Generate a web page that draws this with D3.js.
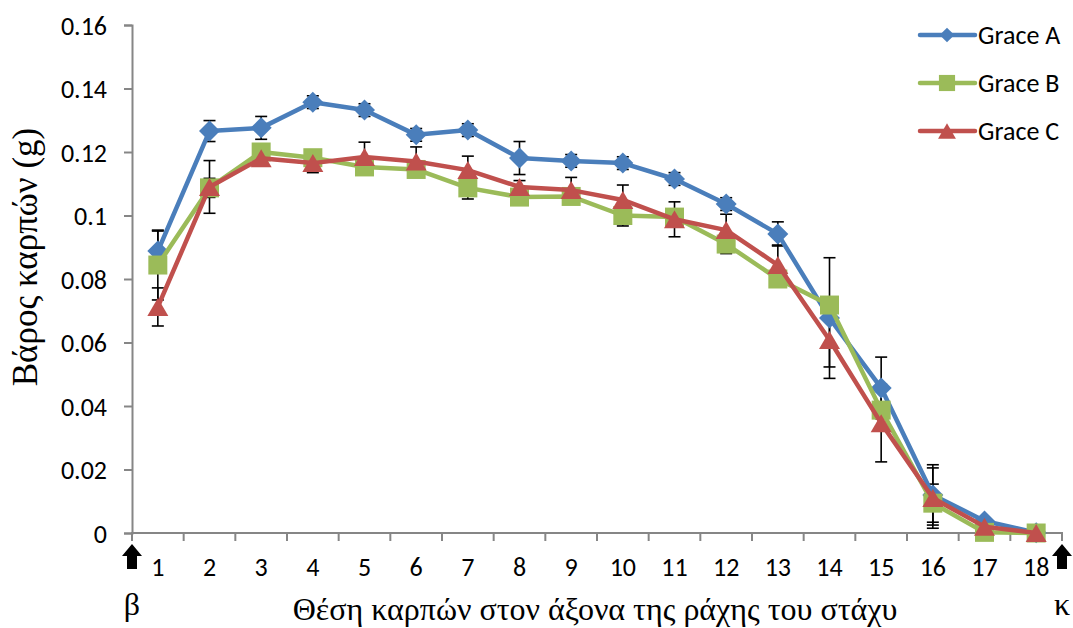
<!DOCTYPE html>
<html>
<head>
<meta charset="utf-8">
<script src="https://cdn.jsdelivr.net/npm/d3@7"></script>
<style>
  body { margin: 0; background: #fff; }
  svg { display: block; }
  .tick-label { font-family: Carlito, Calibri, Lato, sans-serif; font-size: 26px; fill: #000; }
  .axis-title { font-family: "Liberation Serif", "Times New Roman", serif; font-size: 32px; fill: #000; }
</style>
</head>
<body>
<svg id="chart" width="1073" height="628"></svg>
<script>
// positions along the ear's rachis
const categories = ["1","2","3","4","5","6","7","8","9","10","11","12","13","14","15","16","17","18"];
const yTicks = [0, 0.02, 0.04, 0.06, 0.08, 0.1, 0.12, 0.14, 0.16];
const seriesNames = ["Grace A", "Grace B", "Grace C"];

const graceA = [0.0888, 0.1266, 0.1276, 0.1357, 0.1332, 0.1254, 0.1269, 0.1181, 0.1172, 0.1165, 0.1115, 0.1036, 0.0942, 0.0677, 0.0457, 0.0120, 0.0038, 0.0001];
const graceB = [0.0844, 0.1087, 0.1200, 0.1182, 0.1153, 0.1145, 0.1087, 0.1058, 0.1060, 0.1000, 0.0995, 0.0910, 0.0800, 0.0718, 0.0387, 0.0094, 0.0002, 0.0000];
const graceC = [0.0712, 0.1090, 0.1180, 0.1165, 0.1184, 0.1170, 0.1143, 0.1090, 0.1080, 0.1049, 0.0988, 0.0954, 0.0844, 0.0608, 0.0346, 0.0110, 0.0020, 0.0000];

const errA = [0.0063, 0.0033, 0.0036, 0.002, 0.002, 0.002, 0.002, 0.0052, 0.002, 0.002, 0.002, 0.002, 0.0038, 0.019, 0.0097, 0.0095, 0.001, 0];
const errB = [0.011, 0.003, 0.002, 0.002, 0.002, 0.002, 0.0035, 0.002, 0.002, 0.0033, 0.002, 0.003, 0.002, 0.002, 0.002, 0.006, 0.0005, 0];
const errC = [0.006, 0.0083, 0.002, 0.003, 0.0047, 0.0046, 0.0044, 0.002, 0.004, 0.0047, 0.0055, 0.005, 0.0063, 0.0085, 0.0122, 0.0095, 0.001, 0];

const colors = ["#4a7ebb", "#9bbb59", "#c0504d"];
const shapes = ["diamond", "square", "triangle"];

const series = seriesNames.map((name, i) => ({
    name,
    color: colors[i],
    shape: shapes[i],
    values: [graceA, graceB, graceC][i],
    errs: [errA, errB, errC][i]
}));

const svg = d3.select("#chart");
const plot = { left: 132, right: 1062, top: 25, bottom: 533 };

const x = d3.scaleBand().domain(categories).range([plot.left, plot.right]);
const y = d3.scaleLinear().domain([0, 0.16]).range([plot.bottom, plot.top]);
const cx = c => x(c) + x.bandwidth() / 2;

function markerPath(shape, k) {
    k = k || 1;
    if (shape === "diamond") {
        let h = 10.5 * k;
        return `M0,${-h}L${h},0L0,${h}L${-h},0Z`;
    }
    if (shape === "square") {
        let h = 9.5 * k;
        return `M${-h},${-h}L${h},${-h}L${h},${h}L${-h},${h}Z`;
    }
    let w = 10.5 * k, h = 9 * k;
    return `M0,${-h}L${w},${h}L${-w},${h}Z`;
}

// axes
const axisColor = "#868686";

const yAxis = svg.append("g")
    .attr("transform", `translate(${plot.left},0)`)
    .call(d3.axisLeft(y).tickValues(yTicks).tickSize(8).tickFormat(d => d === 0 ? "0" : d3.format("")(+d.toFixed(2))));
yAxis.select(".domain").attr("stroke", axisColor).attr("stroke-width", 2);
yAxis.selectAll(".tick line").attr("stroke", axisColor).attr("stroke-width", 2);
yAxis.selectAll(".tick text").attr("class", "tick-label").attr("x", -25).attr("dy", "0.35em");

const xAxis = svg.append("g")
    .attr("transform", `translate(0,${plot.bottom})`)
    .call(d3.axisBottom(x).tickSize(0).tickPadding(0));
xAxis.select(".domain").remove();
xAxis.selectAll(".tick text").attr("class", "tick-label").attr("y", 34).attr("dy", "0.35em");

// category boundaries
const bounds = categories.map(c => x(c)).concat([plot.right]);
svg.append("g")
    .selectAll("line")
    .data(bounds)
    .join("line")
    .attr("x1", d => d).attr("x2", d => d)
    .attr("y1", plot.bottom).attr("y2", plot.bottom + 8)
    .attr("stroke", axisColor).attr("stroke-width", 2);
svg.append("line")
    .attr("x1", plot.left - 1).attr("x2", plot.right + 1)
    .attr("y1", plot.bottom).attr("y2", plot.bottom)
    .attr("stroke", axisColor).attr("stroke-width", 2);

// error bars
const errLayer = svg.append("g");
series.forEach(s => {
    let pts = categories.map((c, i) => ({ c, v: s.values[i], e: s.errs[i] })).filter(d => d.e > 0);
    let g = errLayer.selectAll(null).data(pts).join("g").attr("stroke", "#000").attr("stroke-width", 1.6);
    g.append("line")
        .attr("x1", d => cx(d.c)).attr("x2", d => cx(d.c))
        .attr("y1", d => y(d.v + d.e)).attr("y2", d => y(d.v - d.e));
    [1, -1].forEach(sign => {
        g.append("line")
            .attr("x1", d => cx(d.c) - 6).attr("x2", d => cx(d.c) + 6)
            .attr("y1", d => y(d.v + sign * d.e)).attr("y2", d => y(d.v + sign * d.e));
    });
});

// lines and markers
const line = d3.line().x((d, i) => cx(categories[i])).y(d => y(d));
series.forEach(s => {
    let g = svg.append("g").attr("class", "series");
    g.append("path")
        .attr("d", line(s.values))
        .attr("fill", "none")
        .attr("stroke", s.color)
        .attr("stroke-width", 4.5)
        .attr("stroke-linejoin", "round");
    g.selectAll("path.marker")
        .data(s.values)
        .join("path")
        .attr("class", "marker")
        .attr("d", markerPath(s.shape))
        .attr("transform", (d, i) => `translate(${cx(categories[i])},${y(d)})`)
        .attr("fill", s.color);
});

// legend
const legend = svg.append("g");
series.forEach((s, i) => {
    let ly = 35 + i * 48;
    legend.append("line")
        .attr("x1", 920).attr("x2", 975).attr("y1", ly).attr("y2", ly)
        .attr("stroke", s.color).attr("stroke-width", 4.5).attr("stroke-linecap", "round");
    legend.append("path")
        .attr("d", markerPath(s.shape, s.shape === "diamond" ? 0.7 : 0.85))
        .attr("transform", `translate(947,${ly})`)
        .attr("fill", s.color);
    legend.append("text")
        .attr("class", "tick-label")
        .attr("x", 978).attr("y", ly).attr("dy", "0.35em")
        .text(s.name);
});

// axis titles
svg.append("text")
    .attr("class", "axis-title")
    .attr("text-anchor", "middle")
    .style("font-size", "35px")
    .attr("transform", "translate(37,257) rotate(-90)")
    .text("Βάρος καρπών (g)");
svg.append("text")
    .attr("class", "axis-title")
    .attr("text-anchor", "middle")
    .attr("x", 595).attr("y", 620)
    .text("Θέση καρπών στον άξονα της ράχης του στάχυ");

// base / tip markers
const arrow = "M0,-12L10,0L5,0L5,13L-5,13L-5,0L-10,0Z";
[[plot.left, "β"], [plot.right, "κ"]].forEach(([ax, label]) => {
    svg.append("path").attr("d", arrow).attr("transform", `translate(${ax},556)`).attr("fill", "#000");
    svg.append("text")
        .attr("class", "axis-title")
        .attr("text-anchor", "middle")
        .attr("x", ax).attr("y", 615)
        .text(label);
});
</script>
</body>
</html>
